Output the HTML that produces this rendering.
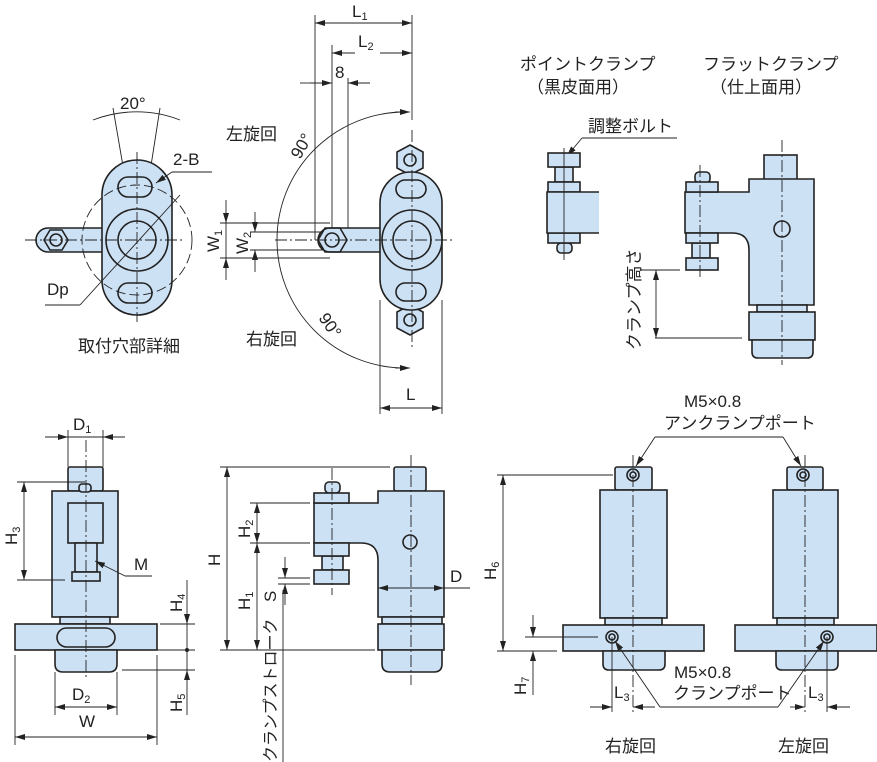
<!DOCTYPE html>
<html><head><meta charset="utf-8"><style>
html,body{margin:0;padding:0;background:#fff}
svg{display:block}
text{font-family:"Liberation Sans","Noto Sans CJK JP",sans-serif;fill:#222}
.b{fill:#cde1f5;stroke:#222;stroke-width:1.6}
.n{fill:none;stroke:#222;stroke-width:1.6}
.d{fill:none;stroke:#222;stroke-width:0.9}
.c{fill:none;stroke:#222;stroke-width:0.9;stroke-dasharray:12 3 2 3}
.a{fill:none;stroke:#222;stroke-width:0.9;marker-end:url(#ar)}
.aa{fill:none;stroke:#222;stroke-width:0.9;marker-end:url(#ar);marker-start:url(#ar2)}
.j{font-size:17px}
.l{font-size:17px}
</style></head><body>
<svg width="877" height="762" viewBox="0 0 877 762" xmlns="http://www.w3.org/2000/svg">
<defs>
<marker id="ar" markerWidth="10" markerHeight="6" refX="10" refY="3" orient="auto" markerUnits="userSpaceOnUse"><path d="M0,0 L10,3 L0,6z" fill="#222"/></marker>
<marker id="ar2" markerWidth="10" markerHeight="6" refX="0" refY="3" orient="auto" markerUnits="userSpaceOnUse"><path d="M10,0 L0,3 L10,6z" fill="#222"/></marker>
</defs>

<!-- ===== Top-left: mounting hole detail ===== -->
<path class="d" d="M93,120 A120,120 0 0 1 180,120"/>
<line class="d" x1="113" y1="108" x2="124" y2="172"/>
<line class="d" x1="160" y1="108" x2="150" y2="172"/>
<path class="b" d="M48,228 L112,228 L112,252 L48,252 A12,12 0 0 1 48,228z"/>
<polygon class="n" points="50,230 62,230 68,240 62,250 50,250 44,240"/>
<circle class="n" cx="56" cy="240" r="6"/>
<rect class="b" x="102" y="160" width="70" height="155" rx="35"/>
<rect class="n" x="118" y="177" width="34" height="20" rx="10"/>
<rect class="n" x="118" y="283" width="34" height="20" rx="10"/>
<circle class="b" cx="137" cy="240" r="31"/>
<circle class="n" cx="137" cy="240" r="19"/>
<circle class="d" cx="137" cy="240" r="55" stroke-dasharray="10 4"/>
<line class="c" x1="25" y1="240" x2="185" y2="240"/>
<line class="c" x1="137" y1="152" x2="137" y2="322"/>
<line class="d" x1="80" y1="305" x2="180" y2="195"/>
<line class="d" x1="45" y1="305" x2="80" y2="305"/>
<line class="d" x1="172" y1="172" x2="212" y2="172"/>
<line class="a" x1="172" y1="172" x2="156" y2="183"/>
<text class="l" x="120" y="109">20°</text>
<text class="l" x="173" y="165">2-B</text>
<text class="l" x="47" y="295">Dp</text>
<text class="j" x="78" y="352">取付穴部詳細</text>

<!-- ===== Top-middle: plan view ===== -->
<line class="d" x1="315" y1="15" x2="315" y2="240"/>
<line class="d" x1="412" y1="15" x2="412" y2="120"/>
<line class="d" x1="332" y1="45" x2="332" y2="240"/>
<line class="d" x1="348" y1="78" x2="348" y2="240"/>
<line class="aa" x1="315" y1="23" x2="412" y2="23"/>
<line class="a" x1="380" y1="53" x2="412" y2="53"/>
<line class="a" x1="355" y1="53" x2="332" y2="53"/>
<line class="a" x1="310" y1="83" x2="332" y2="83"/>
<line class="a" x1="370" y1="83" x2="348" y2="83"/>
<line class="d" x1="300" y1="83" x2="310" y2="83"/>
<text class="l" x="352" y="17">L<tspan font-size="11" dy="3">1</tspan></text>
<text class="l" x="358" y="47">L<tspan font-size="11" dy="3">2</tspan></text>
<text class="l" x="335" y="78">8</text>
<path class="n" d="M405,112 A128,128 0 0 0 405,368" style="stroke-width:0.9"/>
<line class="a" x1="395" y1="112" x2="410" y2="112"/>
<line class="a" x1="395" y1="368" x2="410" y2="368"/>
<text class="j" x="226" y="140">左旋回</text>
<text class="j" x="246" y="345">右旋回</text>
<text class="l" transform="translate(300,160) rotate(-60)">90°</text>
<text class="l" transform="translate(318,318) rotate(55)">90°</text>
<line class="d" x1="220" y1="223" x2="330" y2="223"/>
<line class="d" x1="220" y1="258" x2="330" y2="258"/>
<line class="d" x1="250" y1="232" x2="330" y2="232"/>
<line class="d" x1="250" y1="250" x2="330" y2="250"/>
<line class="a" x1="226" y1="200" x2="226" y2="223"/>
<line class="a" x1="226" y1="280" x2="226" y2="258"/>
<line class="d" x1="226" y1="223" x2="226" y2="258"/>
<line class="a" x1="255" y1="212" x2="255" y2="232"/>
<line class="a" x1="255" y1="272" x2="255" y2="250"/>
<text class="l" transform="translate(219,252) rotate(-90)">W<tspan font-size="11" dy="3">1</tspan></text>
<text class="l" transform="translate(248,254) rotate(-90)">W<tspan font-size="11" dy="3">2</tspan></text>
<path class="b" d="M330,228 L385,228 L385,252 L330,252 A12,12 0 0 1 330,228z"/>
<polygon class="n" points="325,228 340,228 347,240 340,252 325,252 318,240"/>
<circle class="n" cx="332" cy="240" r="7"/>
<polygon class="b" points="410,145 423,152 423,168 410,175 397,168 397,152"/>
<circle class="n" cx="410" cy="160" r="6"/>
<polygon class="b" points="410,305 423,312 423,328 410,335 397,328 397,312"/>
<circle class="n" cx="410" cy="320" r="6"/>
<rect class="b" x="380" y="172" width="62" height="138" rx="31"/>
<rect class="n" x="396" y="180" width="30" height="18" rx="9"/>
<rect class="n" x="396" y="283" width="30" height="18" rx="9"/>
<circle class="b" cx="412" cy="240" r="30"/>
<circle class="n" cx="412" cy="240" r="19"/>
<line class="c" x1="275" y1="240" x2="455" y2="240"/>
<line class="c" x1="412" y1="130" x2="412" y2="350"/>
<line class="d" x1="380" y1="300" x2="380" y2="414"/>
<line class="d" x1="442" y1="300" x2="442" y2="414"/>
<line class="aa" x1="380" y1="408" x2="442" y2="408"/>
<text class="l" x="406" y="400">L</text>

<!-- ===== Top-right ===== -->
<text class="j" x="520" y="70">ポイントクランプ</text>
<text class="j" x="527" y="93">（黒皮面用）</text>
<text class="j" x="703" y="70">フラットクランプ</text>
<text class="j" x="710" y="93">（仕上面用）</text>
<text class="j" x="588" y="132">調整ボルト</text>
<line class="d" x1="582" y1="138" x2="677" y2="138"/>
<line class="a" x1="582" y1="138" x2="567" y2="156"/>
<rect class="b" x="557" y="243" width="15" height="10" rx="4"/>
<rect class="b" x="555" y="167" width="18" height="15"/>
<rect class="b" x="548" y="153" width="32" height="14"/>
<rect class="b" x="548" y="182" width="32" height="10"/>
<rect class="b" x="548" y="233" width="32" height="10"/>
<path class="b" d="M599,192 L547,192 L547,233 L599,233"/>
<line class="d" x1="564" y1="148" x2="564" y2="260"/>
<rect class="b" x="764" y="155" width="33" height="25"/>
<rect class="b" x="695" y="172" width="15" height="11" rx="4"/>
<rect class="b" x="692" y="243" width="18" height="15"/>
<path class="b" d="M749,179 L814,179 L814,305 L749,305 L749,250 Q749,233 732,233 L685,233 L685,192 L749,192z"/>
<rect class="b" x="686" y="182" width="32" height="10"/>
<rect class="b" x="686" y="233" width="32" height="10"/>
<rect class="b" x="686" y="258" width="32" height="12"/>
<rect class="b" x="757" y="305" width="50" height="7"/>
<rect class="b" x="749" y="312" width="66" height="28"/>
<path class="b" d="M752,340 L813,340 L813,352 Q813,358 807,358 L758,358 Q752,358 752,352z"/>
<circle class="n" cx="782" cy="229" r="8"/>
<line class="c" x1="782" y1="140" x2="782" y2="365"/>
<line class="c" x1="700" y1="165" x2="700" y2="280"/>
<line class="d" x1="640" y1="270" x2="680" y2="270"/>
<line class="d" x1="655" y1="338" x2="742" y2="338"/>
<line class="aa" x1="656" y1="270" x2="656" y2="338"/>
<text class="j" transform="translate(640,350) rotate(-90)">クランプ高さ</text>

<!-- ===== Bottom-left front view ===== -->
<line class="d" x1="68" y1="430" x2="68" y2="467"/>
<line class="d" x1="103" y1="430" x2="103" y2="467"/>
<line class="a" x1="45" y1="437" x2="68" y2="437"/>
<line class="a" x1="125" y1="437" x2="103" y2="437"/>
<line class="d" x1="68" y1="437" x2="103" y2="437"/>
<text class="l" x="73" y="430">D<tspan font-size="11" dy="3">1</tspan></text>
<rect class="b" x="68" y="467" width="35" height="24" rx="2"/>
<rect class="b" x="52" y="491" width="66" height="126"/>
<rect class="b" x="79" y="484" width="12" height="8" rx="3"/>
<rect class="b" x="68" y="503" width="35" height="40"/>
<rect class="b" x="75" y="543" width="22" height="29"/>
<rect class="b" x="72" y="572" width="28" height="9"/>
<rect class="b" x="60" y="617" width="50" height="7"/>
<rect class="b" x="15" y="624" width="142" height="26"/>
<rect class="n" x="57" y="628" width="58" height="19" rx="9.5"/>
<path class="b" d="M55,650 L117,650 L117,664 Q117,672 109,672 L63,672 Q55,672 55,664z"/>
<line class="c" x1="86" y1="440" x2="86" y2="680"/>
<line class="d" x1="17" y1="482" x2="85" y2="482"/>
<line class="d" x1="17" y1="580" x2="65" y2="580"/>
<line class="aa" x1="24" y1="482" x2="24" y2="580"/>
<text class="l" transform="translate(17,545) rotate(-90)">H<tspan font-size="11" dy="3">3</tspan></text>
<text class="l" x="134" y="570">M</text>
<line class="d" x1="125" y1="576" x2="152" y2="576"/>
<line class="a" x1="125" y1="576" x2="95" y2="561"/>
<line class="d" x1="160" y1="624" x2="195" y2="624"/>
<line class="d" x1="157" y1="650" x2="195" y2="650"/>
<line class="d" x1="122" y1="670" x2="195" y2="670"/>
<line class="a" x1="187" y1="580" x2="187" y2="624"/>
<line class="a" x1="187" y1="715" x2="187" y2="670"/>
<line class="d" x1="187" y1="624" x2="187" y2="670"/>
<circle cx="187" cy="650" r="2" fill="#222"/>
<text class="l" transform="translate(182,612) rotate(-90)">H<tspan font-size="11" dy="3">4</tspan></text>
<text class="l" transform="translate(182,712) rotate(-90)">H<tspan font-size="11" dy="3">5</tspan></text>
<line class="d" x1="55" y1="672" x2="55" y2="715"/>
<line class="d" x1="117" y1="672" x2="117" y2="715"/>
<line class="aa" x1="55" y1="707" x2="117" y2="707"/>
<text class="l" x="72" y="700">D<tspan font-size="11" dy="3">2</tspan></text>
<line class="d" x1="15" y1="655" x2="15" y2="745"/>
<line class="d" x1="157" y1="655" x2="157" y2="745"/>
<line class="aa" x1="15" y1="737" x2="157" y2="737"/>
<text class="l" x="79" y="727">W</text>

<!-- ===== Bottom-middle side view ===== -->
<line class="d" x1="220" y1="467" x2="390" y2="467"/>
<line class="d" x1="220" y1="650" x2="375" y2="650"/>
<line class="aa" x1="227" y1="467" x2="227" y2="650"/>
<text class="l" transform="translate(220,566) rotate(-90)">H</text>
<line class="d" x1="250" y1="503" x2="310" y2="503"/>
<line class="d" x1="250" y1="543" x2="310" y2="543"/>
<line class="aa" x1="257" y1="503" x2="257" y2="543"/>
<line class="aa" x1="257" y1="543" x2="257" y2="650"/>
<text class="l" transform="translate(250,538) rotate(-90)">H<tspan font-size="11" dy="3">2</tspan></text>
<text class="l" transform="translate(250,610) rotate(-90)">H<tspan font-size="11" dy="3">1</tspan></text>
<line class="d" x1="278" y1="578" x2="310" y2="578"/>
<line class="d" x1="278" y1="584" x2="310" y2="584"/>
<line class="a" x1="285" y1="557" x2="285" y2="578"/>
<line class="a" x1="285" y1="605" x2="285" y2="584"/>
<line class="d" x1="283" y1="590" x2="283" y2="762"/>
<text class="l" transform="translate(276,602) rotate(-90)">S</text>
<text class="j" style="font-size:16px" transform="translate(276,762) rotate(-90)">クランプストローク</text>
<rect class="b" x="394" y="467" width="32" height="24" rx="2"/>
<rect class="b" x="325" y="482" width="15" height="11" rx="4"/>
<rect class="b" x="322" y="556" width="21" height="14"/>
<path class="b" d="M378,491 L444,491 L444,617 L378,617 L378,560 Q378,543 361,543 L314,543 L314,503 L378,503z"/>
<rect class="b" x="314" y="493" width="35" height="10"/>
<rect class="b" x="314" y="543" width="35" height="13"/>
<rect class="b" x="314" y="570" width="35" height="14"/>
<rect class="b" x="382" y="617" width="60" height="7"/>
<rect class="b" x="378" y="624" width="66" height="26"/>
<path class="b" d="M382,650 L442,650 L442,664 Q442,672 434,672 L390,672 Q382,672 382,664z"/>
<circle class="n" cx="410" cy="542" r="7"/>
<line class="c" x1="411" y1="455" x2="411" y2="685"/>
<line class="c" x1="332" y1="468" x2="332" y2="595"/>
<line class="aa" x1="378" y1="588" x2="444" y2="588"/>
<line class="d" x1="444" y1="588" x2="470" y2="588"/>
<text class="l" x="450" y="582">D</text>

<!-- ===== Bottom-right ===== -->
<text class="l" x="684" y="407">M5×0.8</text>
<text class="j" x="664" y="429">アンクランプポート</text>
<line class="d" x1="655" y1="437" x2="783" y2="437"/>
<line class="a" x1="655" y1="437" x2="636" y2="466"/>
<line class="a" x1="783" y1="437" x2="801" y2="466"/>
<rect class="b" x="615" y="467" width="37" height="23" rx="2"/>
<rect class="b" x="600" y="490" width="67" height="128"/>
<rect class="b" x="605" y="618" width="57" height="7"/>
<rect class="b" x="563" y="625" width="141" height="26"/>
<path class="b" d="M603,651 L665,651 L665,664 Q665,670 659,670 L609,670 Q603,670 603,664z"/>
<circle class="n" cx="633" cy="475" r="6"/><circle class="n" cx="633" cy="475" r="3"/>
<circle class="n" cx="612" cy="637" r="6"/><circle class="n" cx="612" cy="637" r="3"/>
<line class="c" x1="633" y1="455" x2="633" y2="712"/>
<line class="d" x1="612" y1="637" x2="612" y2="712"/>
<rect class="b" x="787" y="467" width="36" height="23" rx="2"/>
<rect class="b" x="773" y="490" width="65" height="128"/>
<rect class="b" x="777" y="618" width="57" height="7"/>
<rect class="b" x="735" y="625" width="142" height="26"/>
<path class="b" d="M776,651 L838,651 L838,664 Q838,670 832,670 L782,670 Q776,670 776,664z"/>
<circle class="n" cx="803" cy="475" r="6"/><circle class="n" cx="803" cy="475" r="3"/>
<circle class="n" cx="827" cy="637" r="6"/><circle class="n" cx="827" cy="637" r="3"/>
<line class="c" x1="805" y1="455" x2="805" y2="712"/>
<line class="d" x1="827" y1="637" x2="827" y2="712"/>
<line class="d" x1="497" y1="475" x2="613" y2="475"/>
<line class="d" x1="497" y1="651" x2="557" y2="651"/>
<line class="aa" x1="503" y1="475" x2="503" y2="651"/>
<text class="l" transform="translate(496,580) rotate(-90)">H<tspan font-size="11" dy="3">6</tspan></text>
<line class="d" x1="525" y1="637" x2="598" y2="637"/>
<line class="a" x1="533" y1="615" x2="533" y2="637"/>
<line class="a" x1="533" y1="695" x2="533" y2="651"/>
<text class="l" transform="translate(526,695) rotate(-90)">H<tspan font-size="11" dy="3">7</tspan></text>
<line class="a" x1="590" y1="707" x2="612" y2="707"/>
<line class="a" x1="655" y1="707" x2="633" y2="707"/>
<text class="l" x="614" y="698">L<tspan font-size="11" dy="3">3</tspan></text>
<line class="a" x1="790" y1="707" x2="805" y2="707"/>
<line class="a" x1="850" y1="707" x2="827" y2="707"/>
<text class="l" x="808" y="698">L<tspan font-size="11" dy="3">3</tspan></text>
<text class="l" x="674" y="678">M5×0.8</text>
<text class="j" x="673" y="699">クランプポート</text>
<line class="d" x1="660" y1="707" x2="778" y2="707"/>
<line class="a" x1="660" y1="707" x2="615" y2="641"/>
<line class="a" x1="778" y1="707" x2="824" y2="641"/>
<text class="j" x="605" y="752">右旋回</text>
<text class="j" x="778" y="752">左旋回</text>
</svg>
</body></html>
